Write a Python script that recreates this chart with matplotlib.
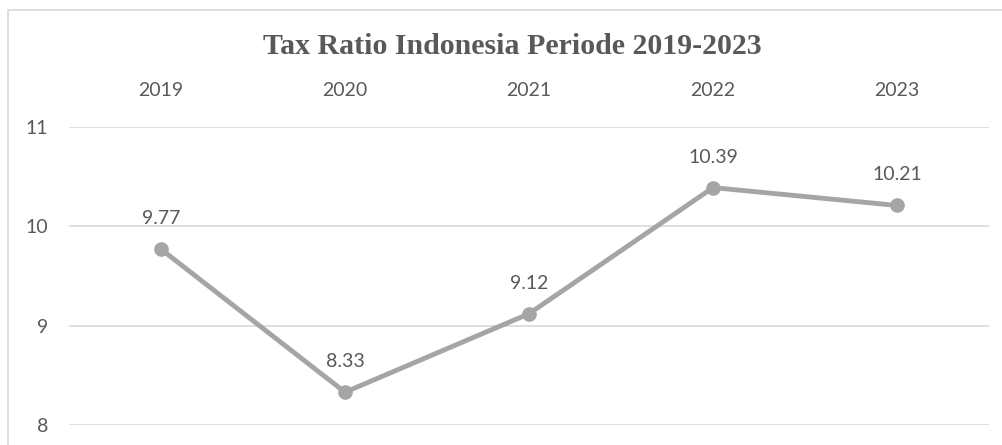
import matplotlib
matplotlib.use("Agg")
import matplotlib.pyplot as plt
from matplotlib.patches import Rectangle

# data
years = ["2019", "2020", "2021", "2022", "2023"]
tax_ratio = [9.77, 8.33, 9.12, 10.39, 10.21]
yticks = [8, 9, 10, 11]

W, H = 1003, 445
fig = plt.figure(figsize=(W / 100, H / 100), dpi=100)

# plot area in pixel coords -> figure fraction
left, right, top, bottom = 69, 989, 127, 425
ax = fig.add_axes([left / W, 1 - bottom / H, (right - left) / W, (bottom - top) / H])

txt = "#595959"
x = list(range(len(years)))
ax.plot(x, tax_ratio, color="#A5A5A5", lw=3.5, marker="o", ms=9.5,
        solid_capstyle="round", zorder=3, clip_on=False)
for xi, v in zip(x, tax_ratio):
    ax.annotate(f"{v:.2f}", (xi, v), xytext=(0, 22), textcoords="offset points",
                ha="center", va="center", fontsize=14, color=txt, family="Lato")

ax.set_xlim(-0.5, len(years) - 0.5)
ax.set_ylim(8, 11)
ax.set_yticks(yticks)
ax.set_xticks(x)
ax.set_xticklabels(years)
ax.xaxis.tick_top()
ax.tick_params(axis="x", length=0, pad=20, labelsize=14, labelcolor=txt)
ax.tick_params(axis="y", length=0, pad=15, labelsize=14, labelcolor=txt)
for lab in ax.get_xticklabels() + ax.get_yticklabels():
    lab.set_family("Lato")
ax.grid(axis="y", color="#D9D9D9", lw=1.2)
ax.set_axisbelow(True)
for s in ax.spines.values():
    s.set_visible(False)

fig.text(512 / W, 1 - 47 / H, "Tax Ratio Indonesia Periode 2019-2023", ha="center", va="center",
         fontsize=21.5, fontweight="bold", color=txt, family="Liberation Serif")

# chart frame (cut off at right and bottom like the source)
fig.patches.append(Rectangle((8.5 / W, -0.1), 1.2, 1 - 10.5 / H + 0.1,
                             transform=fig.transFigure, fill=False,
                             edgecolor="#D9D9D9", lw=1.2))

fig.savefig("out.png", dpi=100)
